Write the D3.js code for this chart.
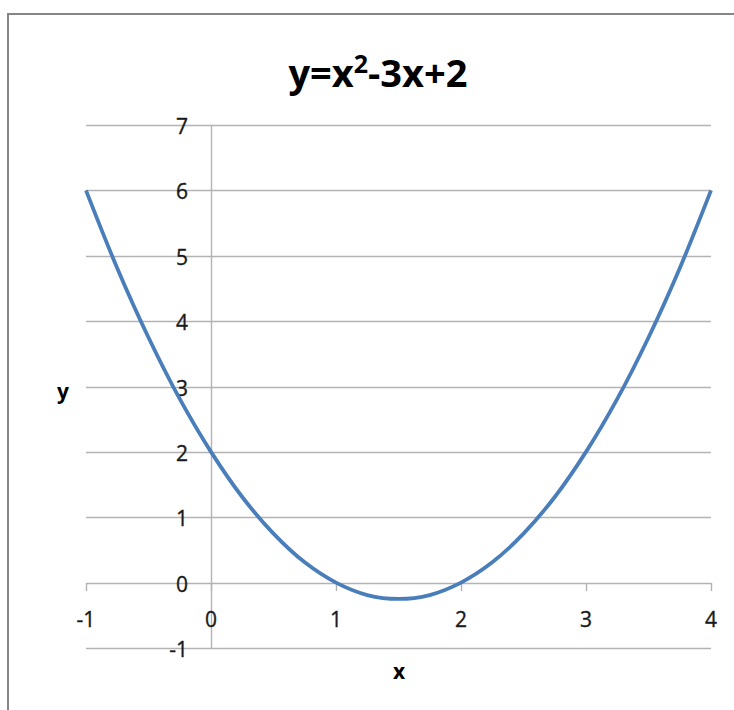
<!DOCTYPE html>
<html>
<head>
<meta charset="utf-8">
<script src="https://cdn.jsdelivr.net/npm/d3@7"></script>
<style>
  html, body { margin: 0; padding: 0; background: #fff; }
  svg { display: block; }
</style>
</head>
<body>
<svg id="chart" width="734" height="710"></svg>
<script>
// ---- data ----
const xValues = [-1, -0.75, -0.5, -0.25, 0, 0.25, 0.5, 0.75, 1, 1.25, 1.5, 1.75, 2, 2.25, 2.5, 2.75, 3, 3.25, 3.5, 3.75, 4];
const yValues = [6, 4.81, 3.75, 2.81, 2, 1.31, 0.75, 0.31, 0, -0.19, -0.25, -0.19, 0, 0.31, 0.75, 1.31, 2, 2.81, 3.75, 4.81, 6];
const xTicks = [-1, 0, 1, 2, 3, 4];
const yTicks = [-1, 0, 1, 2, 3, 4, 5, 6, 7];
const titleMain = "y=x";
const titleSup = "2";
const titleRest = "-3x+2";
const xTitle = "x";
const yTitle = "y";

const svg = d3.select("#chart");
const font = "'Open Sans', 'Liberation Sans', sans-serif";

// chart frame
svg.append("path")
  .attr("d", "M8,710 L8,14 L734,14")
  .attr("fill", "none")
  .attr("stroke", "#868686")
  .attr("stroke-width", 2);

const x = d3.scaleLinear().domain([-1, 4]).range([86, 711]);
const y = d3.scaleLinear().domain([-1, 7]).range([648, 125]);

const gridColor = "#b3b3b3";

// horizontal gridlines
svg.append("g").selectAll("line").data(yTicks).join("line")
  .attr("x1", x(-1)).attr("x2", x(4))
  .attr("y1", d => Math.round(y(d)) + 0.5).attr("y2", d => Math.round(y(d)) + 0.5)
  .attr("stroke", gridColor).attr("stroke-width", 1.4);

// vertical axis line at x = 0
svg.append("line")
  .attr("x1", Math.round(x(0)) + 0.5).attr("x2", Math.round(x(0)) + 0.5)
  .attr("y1", y(7)).attr("y2", y(-1))
  .attr("stroke", gridColor).attr("stroke-width", 1.4);

// x axis tick marks at y = 0
svg.append("g").selectAll("line").data(xTicks).join("line")
  .attr("x1", d => Math.round(x(d)) + 0.5).attr("x2", d => Math.round(x(d)) + 0.5)
  .attr("y1", Math.round(y(0))).attr("y2", Math.round(y(0)) + 8)
  .attr("stroke", gridColor).attr("stroke-width", 1.4);

// y tick labels
svg.append("g").selectAll("text").data(yTicks).join("text")
  .attr("x", 188)
  .attr("y", d => y(d) + 9)
  .attr("text-anchor", "end")
  .attr("font-family", font)
  .attr("font-size", 21)
  .attr("fill", "#1a1a1a")
  .attr("stroke", "#1a1a1a").attr("stroke-width", 0.35)
  .text(d => d);

// x tick labels
svg.append("g").selectAll("text").data(xTicks).join("text")
  .attr("x", d => x(d))
  .attr("y", 627)
  .attr("text-anchor", "middle")
  .attr("font-family", font)
  .attr("font-size", 21)
  .attr("fill", "#1a1a1a")
  .attr("stroke", "#1a1a1a").attr("stroke-width", 0.35)
  .text(d => d);

// curve
const pts = xValues.map((v, i) => [v, yValues[i]]);
svg.append("path")
  .datum(pts)
  .attr("fill", "none")
  .attr("stroke", "#4a7ebb")
  .attr("stroke-width", 3.8)
  .attr("stroke-linejoin", "round")
  .attr("d", d3.line().x(d => x(d[0])).y(d => y(d[1])).curve(d3.curveCatmullRom));

// title
const t = svg.append("text")
  .attr("x", 378)
  .attr("y", 87)
  .attr("text-anchor", "middle")
  .attr("font-family", font)
  .attr("font-weight", "bold")
  .attr("font-size", 38)
  .attr("fill", "#000");
t.append("tspan").text(titleMain);
t.append("tspan").attr("dy", -14).attr("font-size", 25).text(titleSup);
t.append("tspan").attr("dy", 14).text(titleRest);

// axis titles
svg.append("text")
  .attr("x", 399).attr("y", 679)
  .attr("text-anchor", "middle")
  .attr("font-family", font).attr("font-weight", "bold")
  .attr("font-size", 21).attr("fill", "#000")
  .text(xTitle);

svg.append("text")
  .attr("x", 63).attr("y", 399)
  .attr("text-anchor", "middle")
  .attr("font-family", font).attr("font-weight", "bold")
  .attr("font-size", 21).attr("fill", "#000")
  .text(yTitle);
</script>
</body>
</html>
